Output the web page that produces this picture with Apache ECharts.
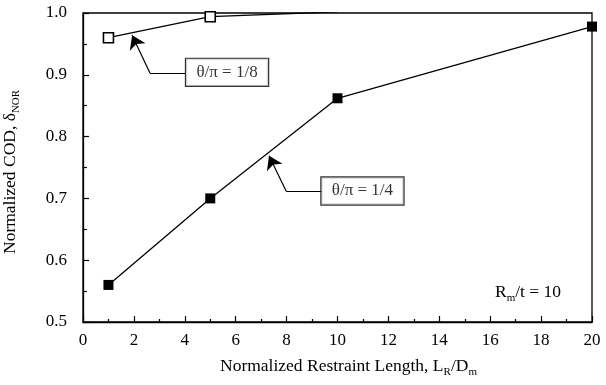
<!DOCTYPE html>
<html>
<head>
<meta charset="utf-8">
<script src="https://cdn.jsdelivr.net/npm/echarts@6/dist/echarts.min.js"></script>
<style>
  html, body { margin: 0; padding: 0; background: #fff; }
  #chart { width: 606px; height: 385px; }
</style>
</head>
<body>
<div id="chart"></div>
<script>
// Normalized restraint length L_R/D_m
const lengthEighth = [1, 5, 10];
const lengthQuarter = [1, 5, 10, 20];
// Normalized COD for each crack angle
const codEighth = [0.960, 0.994, 1.002];         // θ/π = 1/8
const codQuarter = [0.560, 0.700, 0.862, 0.978]; // θ/π = 1/4

const xTickLabels = [0, 2, 4, 6, 8, 10, 12, 14, 16, 18, 20];
const yTickLabels = [0.5, 0.6, 0.7, 0.8, 0.9, 1.0];

// Callout boxes and their leaders, in data units
const calloutText = ['θ/π = 1/8', 'θ/π = 1/4'];
const calloutCenter = [[5.66, 0.904], [10.98, 0.712]];
// box edge -> elbow (plain), elbow -> curve (arrowed)
const leaderTails = [
  [[4.01, 0.903], [2.63, 0.903]],
  [[9.39, 0.712], [7.98, 0.712]]
];
const leaderHeads = [
  [[2.63, 0.903], [1.93, 0.964]],
  [[7.98, 0.712], [7.31, 0.769]]
];

const FONT = 'Liberation Serif';
const chart = echarts.init(document.getElementById('chart'), null, { renderer: 'canvas' });

const pairs = (xs, ys) => xs.map((x, i) => [x, ys[i]]);
const subStyle = { fontSize: 11, fontFamily: FONT, verticalAlign: 'bottom', lineHeight: 24, fill: '#000' };

chart.setOption({
  animation: false,
  backgroundColor: '#fff',
  grid: { left: 83, right: 14, top: 13, bottom: 63, show: true, borderColor: '#000', borderWidth: 1.3, backgroundColor: 'transparent' },
  xAxis: {
    type: 'value', min: xTickLabels[0], max: xTickLabels[xTickLabels.length - 1], interval: 2,
    axisLine: { lineStyle: { color: '#000', width: 1.3 } },
    axisTick: { inside: true, length: 6, lineStyle: { color: '#000', width: 1.2 } },
    minorTick: { show: true, splitNumber: 2, length: 3, lineStyle: { color: '#000', width: 1.2 } },
    splitLine: { show: false },
    axisLabel: { color: '#000', fontFamily: FONT, fontSize: 17, margin: 10 }
  },
  yAxis: {
    type: 'value', min: yTickLabels[0], max: yTickLabels[yTickLabels.length - 1], interval: 0.1,
    axisLine: { lineStyle: { color: '#000', width: 1.3 } },
    axisTick: { inside: true, length: 6, lineStyle: { color: '#000', width: 1.2 } },
    minorTick: { show: true, splitNumber: 2, length: 4, lineStyle: { color: '#000', width: 1.2 } },
    splitLine: { show: false },
    axisLabel: { color: '#000', fontFamily: FONT, fontSize: 17, margin: 16, formatter: v => v.toFixed(1) }
  },
  series: [
    {
      name: 'θ/π = 1/8', type: 'line', data: pairs(lengthEighth, codEighth),
      symbol: 'rect', symbolSize: 10,
      lineStyle: { color: '#000', width: 1.3 },
      itemStyle: { color: '#fff', borderColor: '#000', borderWidth: 1.6 },
      z: 3
    },
    {
      name: 'θ/π = 1/4', type: 'line', data: pairs(lengthQuarter, codQuarter),
      symbol: 'rect', symbolSize: 10,
      lineStyle: { color: '#000', width: 1.3 },
      itemStyle: { color: '#000' },
      z: 3
    },
    {
      name: 'leader tails', type: 'lines', coordinateSystem: 'cartesian2d',
      symbol: 'none',
      lineStyle: { color: '#000', width: 1.2, opacity: 1 },
      data: leaderTails.map(p => ({ coords: p })),
      z: 4
    },
    {
      name: 'leader heads', type: 'lines', coordinateSystem: 'cartesian2d',
      symbol: ['none', 'arrow'], symbolSize: [8, 13],
      lineStyle: { color: '#000', width: 1.2, opacity: 1 },
      data: leaderHeads.map(p => ({ coords: p })),
      z: 4
    },
    {
      name: 'callouts', type: 'scatter', symbolSize: 0,
      data: calloutCenter.map((c, i) => ({ value: c, name: calloutText[i] })),
      label: {
        show: true, position: 'inside', formatter: p => p.name,
        color: '#000', fontFamily: FONT, fontSize: 17,
        backgroundColor: '#fff', borderColor: '#000', borderWidth: 1.2,
        width: 82, height: 27, lineHeight: 27, align: 'center', verticalAlign: 'middle'
      },
      z: 5
    }
  ],
  graphic: [
    {
      type: 'text', left: 220, top: 357,
      style: {
        text: 'Normalized Restraint Length, L{s|R}/D{s|m}',
        fill: '#000', font: '17.5px "Liberation Serif"',
        rich: { s: subStyle }
      }
    },
    {
      type: 'text', x: -2, y: 254, rotation: Math.PI / 2,
      style: {
        text: 'Normalized COD, δ{s|NOR}',
        fill: '#000', font: '17.5px "Liberation Serif"',
        rich: { s: subStyle }
      }
    },
    {
      type: 'text', left: 495, top: 283,
      style: {
        text: 'R{s|m}/t = 10',
        fill: '#000', font: '17.5px "Liberation Serif"',
        rich: { s: subStyle }
      }
    }
  ]
});
</script>
</body>
</html>
